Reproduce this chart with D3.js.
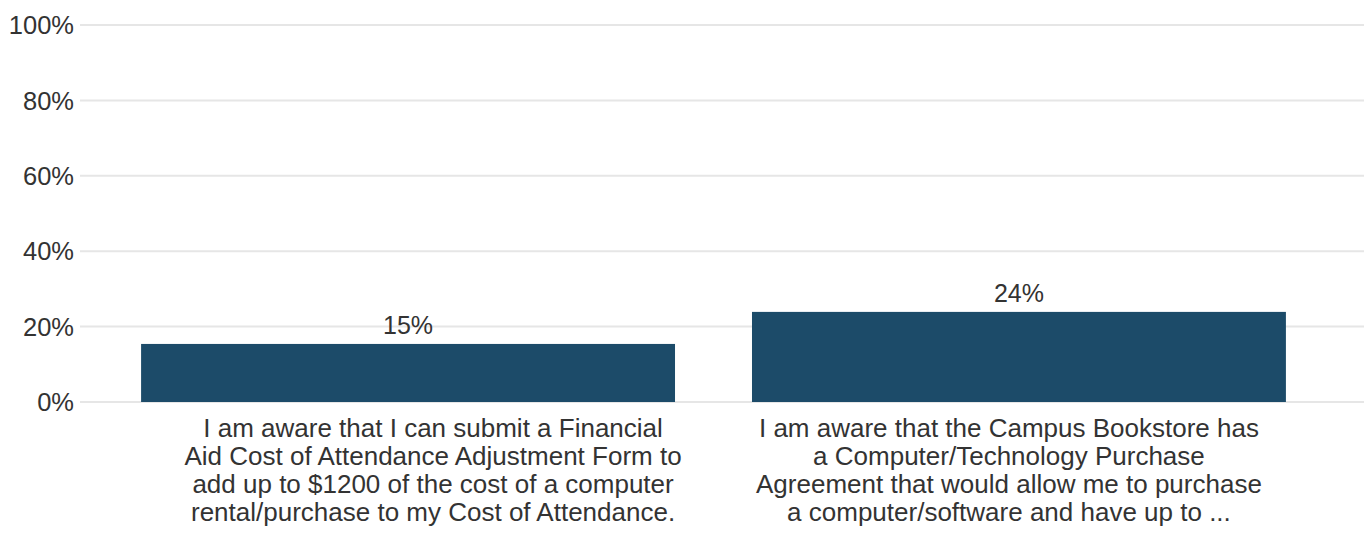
<!DOCTYPE html>
<html>
<head>
<meta charset="utf-8">
<script src="https://cdn.jsdelivr.net/npm/d3@7"></script>
<style>
  body { margin: 0; background: #fff; }
  text { font-family: "Liberation Sans", Arial, sans-serif; fill: #333; }
</style>
</head>
<body>
<svg id="chart" width="1367" height="533"></svg>
<script>
// data
let categories = ["financial-aid", "bookstore"]
let labelLines = [
	["I am aware that I can submit a Financial",
	 "Aid Cost of Attendance Adjustment Form to",
	 "add up to $1200 of the cost of a computer",
	 "rental/purchase to my Cost of Attendance."],
	["I am aware that the Campus Bookstore has",
	 "a Computer/Technology Purchase",
	 "Agreement that would allow me to purchase",
	 "a computer/software and have up to ..."]
]
let values = [15.4, 23.9]
let yTicks = [0, 20, 40, 60, 80, 100]

let svg = d3.select("#chart")

let plotLeft = 80, gridRight = 1364
let plotTop = 25, plotBottom = 402
//the wrapped labels do not sit exactly under the bar centres
let labelShift = [25, -10]

let xscale = d3.scaleBand()
	.domain(categories)
	.range([plotLeft, 1347])
	.paddingInner(0.126)
	.paddingOuter(0.1)

let yscale = d3.scaleLinear()
	.domain([0, 100])
	.range([plotBottom, plotTop])

//gridlines
svg.append("g").selectAll("line")
	.data(yTicks)
	.enter()
	.append("line")
	.attr("x1", plotLeft)
	.attr("x2", gridRight)
	.attr("y1", d => yscale(d))
	.attr("y2", d => yscale(d))
	.attr("stroke", "#e6e6e6")
	.attr("stroke-width", 2)

//y tick labels
svg.append("g").selectAll("text")
	.data(yTicks)
	.enter()
	.append("text")
	.attr("x", 74)
	.attr("y", d => yscale(d))
	.attr("dy", "0.36em")
	.attr("text-anchor", "end")
	.style("font-size", "25.5px")
	.text(d => d + "%")

//bars
svg.append("g").selectAll("rect")
	.data(values)
	.enter()
	.append("rect")
	.attr("x", (d, i) => xscale(categories[i]))
	.attr("width", xscale.bandwidth())
	.attr("y", d => yscale(d))
	.attr("height", d => yscale(0) - yscale(d))
	.attr("fill", "#1c4b69")

//value labels
svg.append("g").selectAll("text")
	.data(values)
	.enter()
	.append("text")
	.attr("x", (d, i) => xscale(categories[i]) + xscale.bandwidth() / 2)
	.attr("y", d => yscale(d) - 10)
	.attr("text-anchor", "middle")
	.style("font-size", "25px")
	.text(d => Math.round(d) + "%")

//category labels, wrapped as in the picture
let catText = svg.append("g").selectAll("text")
	.data(labelLines)
	.enter()
	.append("text")
	.attr("text-anchor", "middle")
	.style("font-size", "26px")
	.attr("transform", (d, i) => "translate(" + (xscale(categories[i]) + xscale.bandwidth() / 2 + labelShift[i]) + ",437)")

catText.selectAll("tspan")
	.data(d => d)
	.enter()
	.append("tspan")
	.attr("x", 0)
	.attr("y", (d, j) => j * 28)
	.text(d => d)
</script>
</body>
</html>
